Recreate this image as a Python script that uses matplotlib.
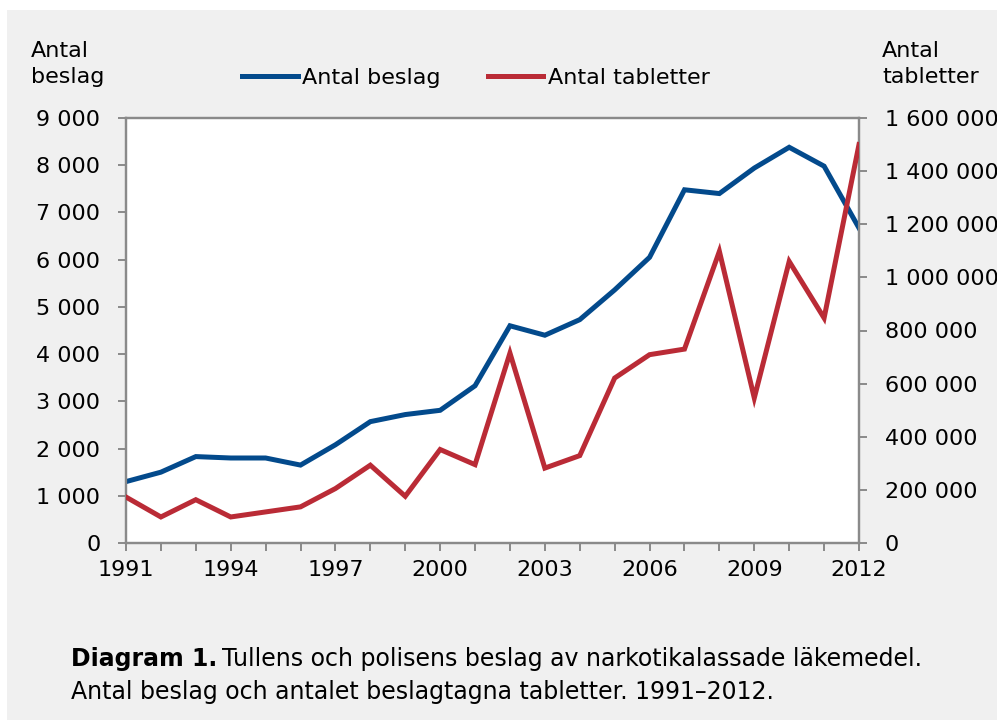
import matplotlib
matplotlib.use("Agg")
import matplotlib.pyplot as plt
from matplotlib.patches import Rectangle
from matplotlib.lines import Line2D
from matplotlib.ticker import FuncFormatter, MultipleLocator

plt.rcParams['font.family'] = ['DejaVu Sans']

years = list(range(1991, 2013))
antal_beslag = [1300, 1500, 1830, 1800, 1800, 1650, 2080, 2570, 2720, 2810, 3330,
                4600, 4400, 4730, 5360, 6050, 7480, 7400, 7940, 8380, 7980, 6670]
antal_tabletter = [173000, 98000, 163000, 98000, 117000, 136000, 205000, 293000, 176000, 352000, 295000,
                   715000, 282000, 329000, 621000, 709000, 730000, 1098000, 546000, 1060000, 847000, 1500000]
xtick_labels = [1991, 1994, 1997, 2000, 2003, 2006, 2009, 2012]

W, H = 997, 720
fig = plt.figure(figsize=(W / 100, H / 100), dpi=100, facecolor='white')
fig.patches.append(Rectangle((7 / W, 0), 1, (H - 10) / H, transform=fig.transFigure,
                             facecolor='#f0f0f0', edgecolor='none', zorder=-10))

left, right, top, bottom = 126, 859, 118, 543
ax = fig.add_axes([left / W, 1 - bottom / H, (right - left) / W, (bottom - top) / H])
ax.set_facecolor('white')
ax2 = ax.twinx()

blue = '#034a8c'
red = '#ba2b36'
fs = 16
grey = '#8a8a8a'

ax.plot(years, antal_beslag, color=blue, lw=3.6, solid_joinstyle='miter', zorder=3)
ax2.plot(years, antal_tabletter, color=red, lw=3.6, solid_joinstyle='miter', zorder=3)

ax.set_xlim(1991, 2012)
ax.set_ylim(0, 9000)
ax2.set_ylim(0, 1600000)
ax.yaxis.set_major_locator(MultipleLocator(1000))
ax2.yaxis.set_major_locator(MultipleLocator(200000))
ax.set_xticks(years)
ax.set_xticklabels([str(y) if y in xtick_labels else '' for y in years])

fmt = FuncFormatter(lambda v, p: f"{int(round(v)):,}".replace(',', ' '))
ax.yaxis.set_major_formatter(fmt)
ax2.yaxis.set_major_formatter(fmt)

for a in (ax, ax2):
    for s in a.spines.values():
        s.set_color(grey)
        s.set_linewidth(1.6)
    a.tick_params(colors=grey, labelcolor='black', labelsize=fs, width=1.4, length=5.5)
ax.tick_params(axis='y', pad=13)
ax.tick_params(axis='x', pad=7)
ax2.tick_params(axis='y', pad=13)

for xp, lines in ((31, ('Antal', 'beslag')), (882, ('Antal', 'tabletter'))):
    fig.text(xp / W, 1 - 57 / H, lines[0], fontsize=fs, va='baseline', ha='left')
    fig.text(xp / W, 1 - 83 / H, lines[1], fontsize=fs, va='baseline', ha='left')

handles = [Line2D([], [], color=blue, lw=3.6), Line2D([], [], color=red, lw=3.6)]
fig.legend(handles, ['Antal beslag', 'Antal tabletter'], loc='center', ncol=2,
           bbox_to_anchor=(476 / W, 1 - 78 / H), frameon=False, fontsize=fs,
           handlelength=2.5, handletextpad=0.2, columnspacing=2.1)

cap_fs = 17
t1 = fig.text(71 / W, 1 - 666 / H, 'Diagram 1.', fontsize=cap_fs, fontweight='bold', va='baseline')
fig.canvas.draw()
bb = t1.get_window_extent()
fig.text((bb.x1 + 5) / W, 1 - 666 / H, 'Tullens och polisens beslag av narkotikalassade läkemedel.',
         fontsize=cap_fs, va='baseline')
fig.text(71 / W, 1 - 699 / H, 'Antal beslag och antalet beslagtagna tabletter. 1991–2012.',
         fontsize=cap_fs, va='baseline')

fig.savefig('out.png', dpi=100, facecolor='white')
